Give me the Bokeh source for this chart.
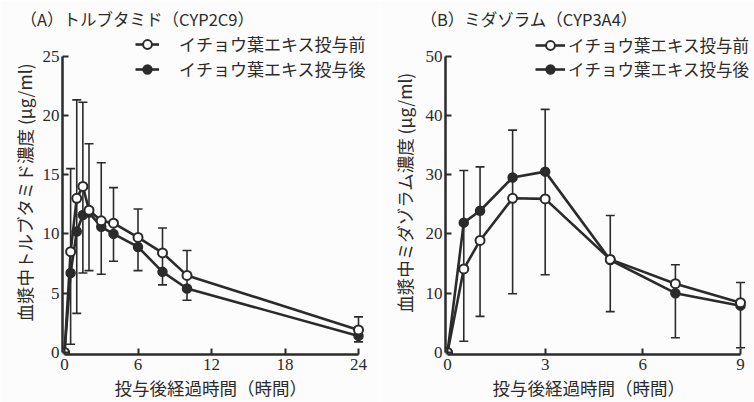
from bokeh.plotting import figure
from bokeh.models import (ColumnDataSource, Whisker, TeeHead, Legend,
                          LegendItem, FixedTicker, Range1d, Title)
from bokeh.layouts import row
from bokeh.embed import file_html
from bokeh.resources import INLINE

# ---------------- data ----------------
legend_before = "イチョウ葉エキス投与前"
legend_after = "イチョウ葉エキス投与後"
x_label = "投与後経過時間（時間）"

a_title = "（A）トルブタミド（CYP2C9）"
a_ylabel = "血漿中トルブタミド濃度 (μg/ml)"
a_time = [0, 0.5, 1, 1.5, 2, 3, 4, 6, 8, 10, 24]
a_before = [0, 8.5, 13.0, 14.0, 12.0, 11.1, 10.9, 9.7, 8.4, 6.5, 1.9]
a_after = [0, 6.7, 10.2, 11.6, 11.8, 10.6, 10.0, 8.9, 6.8, 5.4, 1.4]
a_err_hi = [0, 15.5, 21.3, 21.1, 17.6, 16.0, 13.9, 12.1, 10.5, 8.6, 3.0]
a_err_lo = [0, 0.7, 3.3, 6.7, 6.9, 6.6, 7.7, 6.9, 5.7, 4.4, 0.9]
a_xticks = [0, 6, 12, 18, 24]
a_yticks = [0, 5, 10, 15, 20, 25]

b_title = "（B）ミダゾラム（CYP3A4）"
b_ylabel = "血漿中ミダゾラム濃度 (μg/ml)"
b_time = [0, 0.5, 1, 2, 3, 5, 7, 9]
b_before = [0, 14.1, 18.9, 26.0, 25.9, 15.7, 11.6, 8.4]
b_after = [0, 21.9, 23.9, 29.5, 30.5, 15.6, 10.0, 7.9]
b_err_hi = [0, 30.7, 31.3, 37.5, 41.0, 23.1, 14.8, 11.8]
b_err_lo = [0, 1.9, 6.1, 9.9, 13.1, 6.9, 2.5, 0.8]
b_xticks = [0, 3, 6, 9]
b_yticks = [0, 10, 20, 30, 40, 50]

# ---------------- style ----------------
INK = "#2b2b2b"
BG = "#fcfcfc"
JP = "Noto Sans CJK JP"
NUM = "Liberation Serif"
H = 402
FRAME_TOP = 30      # page px
FRAME_BOT = 354     # page px
Y0_PX = 352         # page px of value 0
YMAX_PX = 55.5      # page px of top tick
ROW_H = 22          # legend row height


def panel(page_x0, width, x0_px, xend_px, t, before, after, hi, lo, xmax, ymax,
          xticks, yticks, title, title_x, ylabel, ylab_standoff, xlab_x,
          glyph_x, rows_y, glyph_w, legend_standoff, legend_size):
    left = int(round(x0_px - 2 - page_x0))
    frame_l = page_x0 + left
    frame_r = page_x0 + width
    xs = (xend_px - x0_px) / xmax
    xr = ((frame_l - x0_px) / xs, (frame_r - x0_px) / xs)
    ys = (Y0_PX - YMAX_PX) / ymax
    yr = ((Y0_PX - FRAME_BOT) / ys, (Y0_PX - FRAME_TOP) / ys)

    p = figure(width=width, height=H, x_range=Range1d(*xr), y_range=Range1d(*yr),
               output_backend="svg", toolbar_location=None,
               min_border_left=left, min_border_right=0,
               min_border_top=FRAME_TOP, min_border_bottom=H - FRAME_BOT)
    p.outline_line_color = None
    p.grid.visible = False
    p.background_fill_color = BG
    p.border_fill_color = BG

    p.title.text = title
    p.title.text_font = JP
    p.title.text_font_size = "16.5px"
    p.title.text_font_style = "normal"
    p.title.text_color = INK
    p.title.align = "left"
    p.title.offset = title_x - frame_l
    p.title.standoff = 0

    for ax, ticks, bnd in ((p.xaxis[0], xticks, (0, xmax)), (p.yaxis[0], yticks, (0, ymax))):
        ax.ticker = FixedTicker(ticks=ticks)
        ax.bounds = bnd
        ax.axis_line_color = INK
        ax.axis_line_width = 2.5
        ax.major_tick_in = 6
        ax.major_tick_out = 0
        ax.major_tick_line_color = INK
        ax.major_tick_line_width = 2
        ax.minor_tick_line_color = None
        ax.major_label_text_font = NUM
        ax.major_label_text_font_size = "17px"
        ax.major_label_text_color = INK
        ax.axis_label_text_font = JP
        ax.axis_label_text_font_style = "normal"
        ax.axis_label_text_color = INK
    p.xaxis[0].major_label_standoff = 4
    p.yaxis[0].major_label_standoff = 3
    p.yaxis[0].axis_label = ylabel
    p.yaxis[0].axis_label_text_font_size = "17.5px"
    p.yaxis[0].axis_label_standoff = ylab_standoff

    xt = Title(text=x_label, align="left", offset=xlab_x - frame_l, standoff=0,
               text_font=JP, text_font_size="17.5px", text_font_style="normal",
               text_color=INK)
    p.add_layout(xt, "below")

    idx = [i for i in range(len(t)) if hi[i] > lo[i]]
    wsrc = ColumnDataSource(dict(t=[t[i] for i in idx], hi=[hi[i] for i in idx],
                                 lo=[lo[i] for i in idx]))
    w = Whisker(source=wsrc, base="t", upper="hi", lower="lo", dimension="height",
                line_color=INK, line_width=1.6, level="underlay",
                upper_head=TeeHead(size=9, line_color=INK, line_width=1.6),
                lower_head=TeeHead(size=9, line_color=INK, line_width=1.6))
    p.add_layout(w)

    src = ColumnDataSource(dict(t=t, before=before, after=after))
    l_after = p.line("t", "after", source=src, line_color=INK, line_width=2.6)
    l_before = p.line("t", "before", source=src, line_color=INK, line_width=2.6)
    s_after = p.scatter("t", "after", source=src, marker="circle", size=9,
                        fill_color=INK, line_color=INK, line_width=1.5)
    s_before = p.scatter("t", "before", source=src, marker="circle", size=9,
                         fill_color="white", line_color=INK, line_width=2)

    for lab, rends, cy in ((legend_before, [l_before, s_before], rows_y[0]),
                           (legend_after, [l_after, s_after], rows_y[1])):
        leg = Legend(items=[LegendItem(label=lab, renderers=rends)],
                     location=(glyph_x - frame_l, FRAME_BOT - cy - ROW_H / 2),
                     orientation="vertical",
                     border_line_color=None, background_fill_alpha=0,
                     padding=0, margin=0, spacing=0,
                     glyph_width=glyph_w, glyph_height=ROW_H, label_height=ROW_H,
                     label_standoff=legend_standoff,
                     label_text_font=JP, label_text_font_size=legend_size,
                     label_text_color=INK)
        p.add_layout(leg)
    return p


pa = panel(0, 380, 64, 358, a_time, a_before, a_after, a_err_hi, a_err_lo, 24, 25,
           a_xticks, a_yticks, a_title, 20, a_ylabel, 3, 114,
           135, (45, 70), 24, 20, "17px")
pb = panel(380, 374, 447, 740, b_time, b_before, b_after, b_err_hi, b_err_lo, 9, 50,
           b_xticks, b_yticks, b_title, 420, b_ylabel, 6, 492,
           535, (46, 70), 30, 3, "16.5px")

layout = row(pa, pb, spacing=0)
open("out.html", "w").write(file_html(layout, INLINE))
